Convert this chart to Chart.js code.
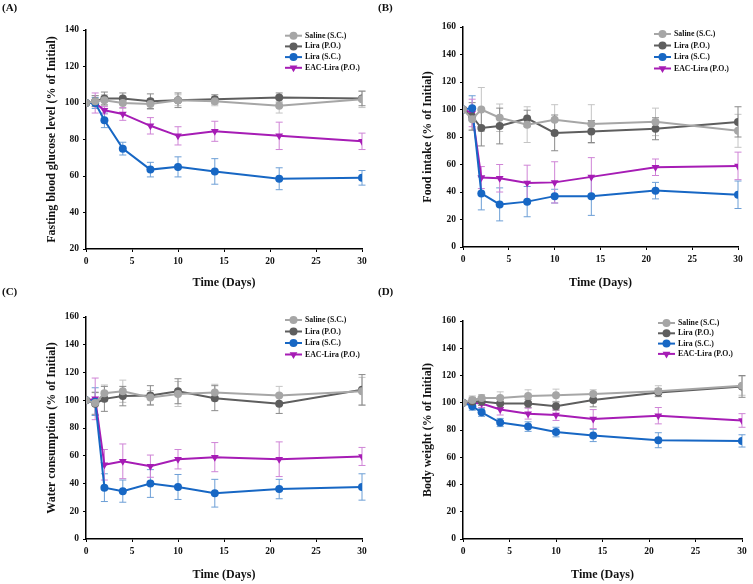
<!DOCTYPE html>
<html>
<head>
<meta charset="utf-8">
<script src="https://cdn.jsdelivr.net/npm/chart.js@4.4.1/dist/chart.umd.min.js"></script>
<style>
    body { margin: 0; background: #fff; width: 753px; height: 584px; position: relative; overflow: hidden; }
    canvas { position: absolute; }
    .tag { position: absolute; font: bold 11px "Liberation Serif", serif; line-height: 12px; color: #111; }
</style>
</head>
<body>
<canvas id="chartA" width="376" height="292" style="left:0;top:0"></canvas>
<canvas id="chartB" width="377" height="292" style="left:376px;top:0"></canvas>
<canvas id="chartC" width="376" height="292" style="left:0;top:292px"></canvas>
<canvas id="chartD" width="377" height="292" style="left:376px;top:292px"></canvas>
<div class="tag" style="left:2px;top:1px">(A)</div>
<div class="tag" style="left:378px;top:1px">(B)</div>
<div class="tag" style="left:2px;top:285px">(C)</div>
<div class="tag" style="left:378px;top:285px">(D)</div>
<script>
const days = [0, 1, 2, 4, 7, 10, 14, 21, 30];
const seriesNames = ['Saline (S.C.)', 'Lira (P.O.)', 'Lira (S.C.)', 'EAC-Lira (P.O.)'];

// (A) fasting blood glucose
const glucoseSaline = [100, 101, 101.5, 100, 99.5, 101.5, 101, 98.5, 102];
const glucoseLiraPO = [100, 101, 102.5, 102.5, 101, 101.5, 102, 103, 102.5];
const glucoseLiraSC = [100, 100, 90.5, 75, 63.5, 65, 62.5, 58.5, 59];
const glucoseEac = [100, 100, 96, 94, 87.5, 82, 84.5, 82, 79];
const glucoseSalineErr = [0, 3, 3, 3, 3, 3, 2.5, 4, 4.5];
const glucoseLiraPOErr = [0, 3, 3.5, 3, 4, 4, 2.5, 2.5, 4];
const glucoseLiraSCErr = [0, 3, 4, 3.5, 4, 5.5, 7, 6, 4];
const glucoseEacErr = [0, 5.5, 2, 3.5, 4.5, 5, 5.5, 7.5, 4.5];

// (B) food intake
const foodSaline = [100, 93, 100, 94, 89, 92.5, 89.5, 91, 84.5];
const foodLiraPO = [100, 95, 86.5, 88, 93.5, 83, 84, 86, 91];
const foodLiraSC = [100, 101, 39, 31, 33, 37, 37, 41, 38];
const foodEac = [100, 97.5, 50.5, 50, 46.5, 47, 51, 58, 59];
const foodSalineErr = [0, 8, 16, 10, 13, 11, 14, 10, 12];
const foodLiraPOErr = [0, 10, 13, 13, 6, 13, 8, 8, 11];
const foodLiraSCErr = [0, 9, 12, 12, 11, 5, 14, 6, 10];
const foodEacErr = [0, 10, 8, 10, 13, 15, 14, 6, 10];

// (C) water consumption
const waterSaline = [100, 98, 105, 106.5, 102, 104.5, 105.5, 103.5, 106.5];
const waterLiraPO = [100, 97.5, 101, 103, 103.5, 106.5, 101.5, 97.5, 107.5];
const waterLiraSC = [100, 99, 37, 34.5, 40, 37.5, 33, 36, 37.5];
const waterEac = [100, 101, 53.5, 56, 52.5, 57.5, 59, 57.5, 59.5];
const waterSalineErr = [0, 8, 6, 8, 5, 9, 6, 6.5, 10];
const waterLiraPOErr = [0, 8, 9, 7, 7, 9, 9, 7, 11];
const waterLiraSCErr = [0, 10, 10, 8, 10, 9, 10, 7, 9.5];
const waterEacErr = [0, 15, 11, 12.5, 8, 7, 10.5, 12.5, 6.5];

// (D) body weight
const weightSaline = [100, 102, 103.5, 103.5, 105, 105.5, 106.5, 108.5, 112.5];
const weightLiraPO = [100, 101, 101, 99.5, 99.5, 97.5, 102, 107.5, 112];
const weightLiraSC = [100, 97.5, 93, 85.5, 82.5, 78.5, 76, 72.5, 72];
const weightEac = [100, 100, 99.5, 95, 92, 91, 88, 90.5, 87];
const weightSalineErr = [0, 3, 2.5, 4.5, 4.5, 4.5, 3, 4, 7];
const weightLiraPOErr = [0, 3, 3, 3, 3, 3, 5, 3, 8];
const weightLiraSCErr = [0, 3, 3, 3, 3.5, 3.5, 4.5, 5.5, 4.5];
const weightEacErr = [0, 3, 3, 4, 4, 4, 7, 6, 5];

const lineColors = ['#a6a6a6', '#5e5e5e', '#1767c4', '#a61cb5'];
const errColors = ['#c4c4c4', '#8a8a8a', '#6d9fd6', '#cf84d6'];
const pointStyles = ['circle', 'circle', 'circle', 'triangle'];
const pointTurns = [0, 0, 0, 180];
const serif = '"Liberation Serif", "Times New Roman", serif';

// vertical error bars drawn from each dataset's errors array
const errorBars = {
    id: 'errorBars',
    beforeDatasetsDraw(chart) {
        const { ctx, scales: { x, y } } = chart;
        chart.data.datasets.forEach(ds => {
            ctx.save();
            ctx.strokeStyle = ds.errorColor;
            ctx.lineWidth = 1;
            ds.data.forEach((p, j) => {
                const e = ds.errors[j];
                if (!e) return;
                const px = x.getPixelForValue(p.x);
                const top = y.getPixelForValue(p.y + e);
                const bot = y.getPixelForValue(p.y - e);
                ctx.beginPath();
                ctx.moveTo(px, top); ctx.lineTo(px, bot);
                ctx.moveTo(px - 3.5, top); ctx.lineTo(px + 3.5, top);
                ctx.moveTo(px - 3.5, bot); ctx.lineTo(px + 3.5, bot);
                ctx.stroke();
            });
            ctx.restore();
        });
    }
};

// legend in the top right corner of the plot, one row per group
const cornerLegend = {
    id: 'cornerLegend',
    afterDraw(chart, args, opts) {
        const { ctx, chartArea } = chart;
        const x0 = chartArea.right - opts.fromRight;
        chart.data.datasets.forEach((ds, i) => {
            const yy = chartArea.top + opts.top + i * opts.gap;
            ctx.save();
            ctx.strokeStyle = ds.borderColor;
            ctx.lineWidth = 2;
            ctx.beginPath();
            ctx.moveTo(x0, yy);
            ctx.lineTo(x0 + 17, yy);
            ctx.stroke();
            ctx.fillStyle = ds.borderColor;
            Chart.helpers.drawPoint(ctx, {
                pointStyle: ds.pointStyle, rotation: ds.pointRotation,
                radius: ds.pointRadius, borderWidth: 0
            }, x0 + 8.5, yy);
            ctx.fillStyle = '#111';
            ctx.font = 'bold 7.8px ' + serif;
            ctx.textBaseline = 'middle';
            ctx.fillText(ds.label, x0 + 20, yy);
            ctx.restore();
        });
    }
};

function drawPanel(id, box, yMin, yMax, yTitle, values, errors, legend) {
    const canvas = document.getElementById(id);
    const W = canvas.width, H = canvas.height;
    const padLeft = 41;

    const datasets = values.map((vals, i) => ({
        label: seriesNames[i],
        data: days.map((d, j) => ({ x: d, y: vals[j] })),
        errors: errors[i],
        errorColor: errColors[i],
        borderColor: lineColors[i],
        backgroundColor: lineColors[i],
        pointBackgroundColor: lineColors[i],
        pointBorderColor: lineColors[i],
        pointStyle: pointStyles[i],
        pointRotation: pointTurns[i],
        pointRadius: i === 3 ? 4.5 : 4,
        pointBorderWidth: 0,
        borderWidth: 2,
        tension: 0
    }));

    new Chart(canvas, {
        type: 'line',
        data: { datasets },
        options: {
            responsive: false,
            animation: false,
            devicePixelRatio: 1,
            layout: { padding: { left: padLeft, top: box.top, right: W - box.right, bottom: 0 } },
            plugins: {
                legend: { display: false },
                tooltip: { enabled: false },
                cornerLegend: legend
            },
            scales: {
                x: {
                    type: 'linear', min: 0, max: 30,
                    afterFit: s => { s.height = H - box.bottom; },
                    border: { color: '#000', width: 1.5 },
                    grid: { drawOnChartArea: false, color: '#000', tickLength: 3 },
                    ticks: { stepSize: 5, padding: 4, color: '#111', font: { family: serif, size: 9.5, weight: 'bold' } },
                    title: { display: true, text: 'Time (Days)', color: '#111', padding: { top: 0, bottom: 2 },
                        font: { family: serif, size: 12, weight: 'bold' } }
                },
                y: {
                    min: yMin, max: yMax,
                    afterFit: s => { s.width = box.left - padLeft; },
                    border: { color: '#000', width: 1.5 },
                    grid: { drawOnChartArea: false, color: '#000', tickLength: 3 },
                    ticks: { stepSize: 20, padding: 4, color: '#111', font: { family: serif, size: 9.5, weight: 'bold' } },
                    title: { display: true, text: yTitle, color: '#111', padding: { top: 4, bottom: 0 },
                        font: { family: serif, size: 12, weight: 'bold' } }
                }
            }
        },
        plugins: [errorBars, cornerLegend]
    });
}

drawPanel('chartA', { left: 86, right: 362, top: 30, bottom: 249 }, 20, 140,
    'Fasting blood glucose level (% of Initial)',
    [glucoseSaline, glucoseLiraPO, glucoseLiraSC, glucoseEac],
    [glucoseSalineErr, glucoseLiraPOErr, glucoseLiraSCErr, glucoseEacErr],
    { fromRight: 77, top: 5.7, gap: 10.7 });

drawPanel('chartB', { left: 87, right: 362, top: 27, bottom: 247 }, 0, 160,
    'Food intake (% of Initial)',
    [foodSaline, foodLiraPO, foodLiraSC, foodEac],
    [foodSalineErr, foodLiraPOErr, foodLiraSCErr, foodEacErr],
    { fromRight: 84, top: 7, gap: 11.5 });

drawPanel('chartC', { left: 86, right: 362, top: 25, bottom: 247 }, 0, 160,
    'Water consumption (% of Initial)',
    [waterSaline, waterLiraPO, waterLiraSC, waterEac],
    [waterSalineErr, waterLiraPOErr, waterLiraSCErr, waterEacErr],
    { fromRight: 77, top: 3, gap: 11.5 });

drawPanel('chartD', { left: 87, right: 366, top: 29, bottom: 247 }, 0, 160,
    'Body weight (% of Initial)',
    [weightSaline, weightLiraPO, weightLiraSC, weightEac],
    [weightSalineErr, weightLiraPOErr, weightLiraSCErr, weightEacErr],
    { fromRight: 84, top: 2, gap: 10.3 });
</script>
</body>
</html>
